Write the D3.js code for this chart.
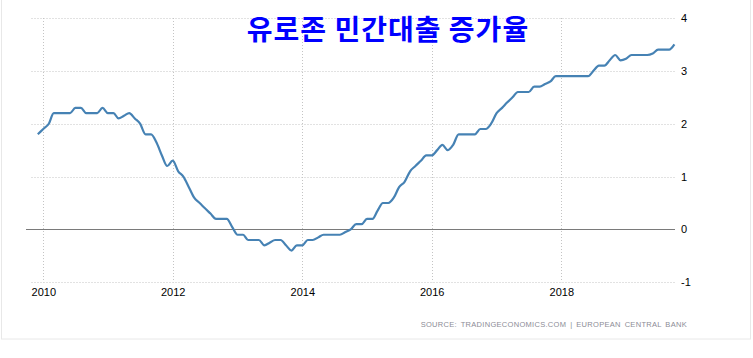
<!DOCTYPE html>
<html>
<head>
<meta charset="utf-8">
<script src="https://cdn.jsdelivr.net/npm/d3@7"></script>
<style>
  html, body { margin: 0; padding: 0; background: #ffffff; }
  svg { display: block; }
</style>
</head>
<body>
<svg id="chart" width="753" height="358"></svg>
<script>
const title = "유로존 민간대출 증가율";
const sourceText = "SOURCE: TRADINGECONOMICS.COM | EUROPEAN CENTRAL BANK";
const startMonth = "2009-12";
const values = [
  1.8,
  1.9, 2.0, 2.2, 2.2, 2.2, 2.2, 2.3, 2.3, 2.2, 2.2, 2.2, 2.3,
  2.2, 2.2, 2.1, 2.15, 2.2, 2.1, 2.0, 1.8, 1.8, 1.65, 1.4, 1.2,
  1.3, 1.1, 1.0, 0.8, 0.6, 0.5, 0.4, 0.3, 0.2, 0.2, 0.2, 0.05,
  -0.1, -0.1, -0.2, -0.2, -0.2, -0.3, -0.25, -0.2, -0.2, -0.3, -0.4, -0.3,
  -0.3, -0.2, -0.2, -0.15, -0.1, -0.1, -0.1, -0.1, -0.05, 0.0, 0.1, 0.1,
  0.2, 0.2, 0.35, 0.5, 0.5, 0.6, 0.8, 0.9, 1.1, 1.2, 1.3, 1.4,
  1.4, 1.5, 1.6, 1.5, 1.6, 1.8, 1.8, 1.8, 1.8, 1.9, 1.9, 2.0,
  2.2, 2.3, 2.4, 2.5, 2.6, 2.6, 2.6, 2.7, 2.7, 2.75, 2.8, 2.9,
  2.9, 2.9, 2.9, 2.9, 2.9, 2.9, 3.0, 3.1, 3.1, 3.2, 3.3, 3.2,
  3.23, 3.3, 3.3, 3.3, 3.3, 3.33, 3.4, 3.4, 3.4, 3.5
];
const xTickYears = [2010, 2012, 2014, 2016, 2018];
const yTickValues = [-1, 0, 1, 2, 3, 4];

const parseMonth = d3.timeParse("%Y-%m");
const t0 = parseMonth(startMonth);
const data = values.map((v, i) => ({ date: d3.timeMonth.offset(t0, i), value: v }));

const svg = d3.select("#chart");

// frame
svg.append("rect")
  .attr("x", 1.5).attr("y", -5).attr("width", 749).attr("height", 344)
  .attr("fill", "none").attr("stroke", "#e8e8e8");

const x = d3.scaleTime()
  .domain([new Date(2010, 0, 1), new Date(2018, 0, 1)])
  .range([43.3, 561.3]);
const y = d3.scaleLinear().domain([-1, 4]).range([282.3, 18]);

const gridLeft = 31.5, gridRight = 675;

// horizontal grid
svg.append("g").selectAll("line")
  .data(yTickValues.filter(v => v !== 0))
  .join("line")
  .attr("x1", gridLeft).attr("x2", gridRight)
  .attr("y1", d => Math.round(y(d)) + 0.5).attr("y2", d => Math.round(y(d)) + 0.5)
  .attr("stroke", "#c4c4c4").attr("stroke-dasharray", "1,2");

// vertical grid
svg.append("g").selectAll("line")
  .data(xTickYears)
  .join("line")
  .attr("x1", d => Math.round(x(new Date(d, 0, 1))) + 0.5)
  .attr("x2", d => Math.round(x(new Date(d, 0, 1))) + 0.5)
  .attr("y1", y(4)).attr("y2", y(-1))
  .attr("stroke", "#c4c4c4").attr("stroke-dasharray", "1,2");

// zero line
svg.append("line")
  .attr("x1", 26).attr("x2", gridRight)
  .attr("y1", Math.round(y(0)) + 0.5).attr("y2", Math.round(y(0)) + 0.5)
  .attr("stroke", "#7a7a7a").attr("stroke-width", 1);

// y axis labels
const yAxis = d3.axisRight(y).tickValues(yTickValues).tickSize(0).tickPadding(0).tickFormat(d => String(d));
const gy = svg.append("g").attr("transform", "translate(681,0)").call(yAxis);
gy.select(".domain").remove();
gy.selectAll("text").attr("font-family", "Liberation Sans, Arial, sans-serif").attr("font-size", 11).attr("fill", "#000");

// x axis labels
const xAxis = d3.axisBottom(x).tickValues(xTickYears.map(yv => new Date(yv, 0, 1))).tickSize(0).tickPadding(0).tickFormat(d3.timeFormat("%Y"));
const gx = svg.append("g").attr("transform", "translate(0,288)").call(xAxis);
gx.select(".domain").remove();
gx.selectAll("text").attr("font-family", "Liberation Sans, Arial, sans-serif").attr("font-size", 11).attr("fill", "#000");

// line
const line = d3.line().x(d => x(d.date)).y(d => y(d.value)).curve(d3.curveMonotoneX);
svg.append("path").datum(data)
  .attr("d", line)
  .attr("fill", "none")
  .attr("stroke", "#4682b4")
  .attr("stroke-width", 2.2)
  .attr("stroke-linejoin", "round");

// title
svg.append("text")
  .attr("x", 388).attr("y", 40)
  .attr("text-anchor", "middle")
  .attr("font-family", "Noto Sans CJK KR, sans-serif")
  .attr("font-weight", 700)
  .attr("font-size", 28)
  .attr("letter-spacing", 1)
  .attr("fill", "#0000ff")
  .text(title);

// source
svg.append("text")
  .attr("x", 687).attr("y", 327)
  .attr("text-anchor", "end")
  .attr("font-family", "Liberation Sans, Arial, sans-serif")
  .attr("font-size", 7.5)
  .attr("letter-spacing", 0.3)
  .attr("word-spacing", 1.5)
  .attr("fill", "#8c8c96")
  .text(sourceText);
</script>
</body>
</html>
